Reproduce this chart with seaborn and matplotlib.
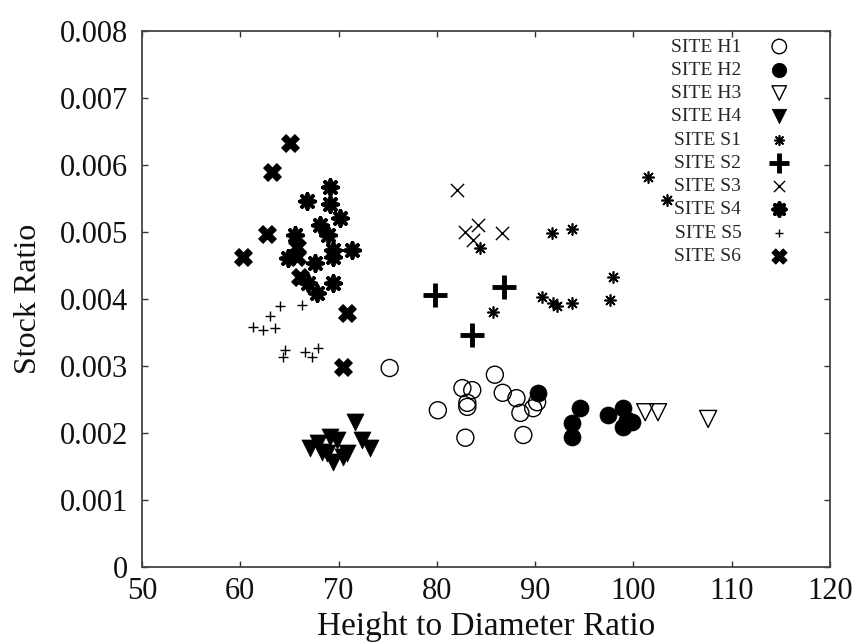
import matplotlib
matplotlib.use("Agg")
import matplotlib.pyplot as plt
import seaborn as sns
import pandas as pd

# Height-to-diameter ratio vs stock ratio per site
h1_x = [75.2, 80.1, 82.6, 83.6, 83.1, 83.1, 82.9, 85.9, 86.7, 88.1, 88.5, 88.8, 89.8, 90.2]
h1_y = [0.00297, 0.00234, 0.00267, 0.00264, 0.00245, 0.00239, 0.00193, 0.00287, 0.00260,
        0.00252, 0.00230, 0.00197, 0.00237, 0.00246]

h2_x = [90.3, 94.6, 93.8, 93.7, 97.4, 98.9, 99.3, 99.9, 98.9]
h2_y = [0.00260, 0.00237, 0.00215, 0.00194, 0.00227, 0.00237, 0.00219, 0.00216, 0.00209]

h3_x = [101.2, 102.5, 107.6]
h3_y = [0.00231, 0.00231, 0.00221]

h4_x = [71.7, 67.1, 67.9, 69.1, 69.8, 69.4, 68.8, 70.9, 72.4, 73.2, 70.4, 68.3]
h4_y = [0.00216, 0.00178, 0.00185, 0.00194, 0.00190, 0.00157, 0.00170, 0.00170, 0.00190,
        0.00178, 0.00164, 0.00172]

s1_x = [84.4, 91.7, 93.7, 97.9, 85.7, 90.7, 91.8, 92.2, 93.8, 97.6, 101.5, 103.4]
s1_y = [0.00476, 0.00499, 0.00504, 0.00433, 0.00381, 0.00403, 0.00394, 0.00390, 0.00394,
        0.00399, 0.00582, 0.00548]

s2_x = [79.8, 86.8, 83.6]
s2_y = [0.00406, 0.00418, 0.00346]

s3_x = [82.0, 82.9, 84.2, 86.6, 83.7]
s3_y = [0.00563, 0.00500, 0.00510, 0.00499, 0.00488]

s4_x = [66.8, 69.1, 69.1, 70.1, 68.1, 71.4, 65.6, 68.9, 69.4, 64.9, 67.6, 69.4, 66.9, 67.8,
        69.4]
s4_y = [0.00546, 0.00567, 0.00542, 0.00521, 0.00510, 0.00473, 0.00496, 0.00496, 0.00473,
        0.00461, 0.00454, 0.00463, 0.00424, 0.00409, 0.00424]

s5_x = [61.3, 62.3, 63.5, 63.0, 64.0, 66.3, 64.5, 64.3, 66.6, 67.3, 67.9]
s5_y = [0.00358, 0.00354, 0.00357, 0.00375, 0.00390, 0.00391, 0.00324, 0.00313, 0.00321,
        0.00313, 0.00327]

s6_x = [65.1, 63.2, 62.7, 60.3, 65.8, 66.1, 70.4, 70.9, 65.8]
s6_y = [0.00633, 0.00590, 0.00497, 0.00463, 0.00478, 0.00433, 0.00299, 0.00379, 0.00463]

x_ticks = [50, 60, 70, 80, 90, 100, 110, 120]
y_ticks = [0, 0.001, 0.002, 0.003, 0.004, 0.005, 0.006, 0.007, 0.008]
y_tick_labels = ["0", "0.001", "0.002", "0.003", "0.004", "0.005", "0.006", "0.007", "0.008"]

sns.set_theme(style="ticks")
plt.rcParams["font.family"] = ["Liberation Serif", "DejaVu Serif"]

fig = plt.figure(figsize=(8.58, 6.44), dpi=100)
ax = fig.add_axes([142 / 858, 1 - 567 / 644, (830 - 142) / 858, (567 - 31) / 644])

series = [
    ("SITE H1", h1_x, h1_y, dict(marker="o", s=150, facecolor="none", edgecolor="black", linewidth=1.0)),
    ("SITE H2", h2_x, h2_y, dict(marker="o", s=150, color="black", edgecolor="black", linewidth=0.5)),
    ("SITE H3", h3_x, h3_y, dict(marker="v", s=150, facecolor="none", edgecolor="black", linewidth=1.0)),
    ("SITE H4", h4_x, h4_y, dict(marker="v", s=150, color="black", edgecolor="black", linewidth=0.5)),
    ("SITE S1", s1_x, s1_y, dict(marker=(8, 2, 0), s=65, color="black", linewidth=1.2)),
    ("SITE S2", s2_x, s2_y, dict(marker="+", s=280, color="black", linewidth=3.5)),
    ("SITE S3", s3_x, s3_y, dict(marker="x", s=90, color="black", linewidth=1.0)),
    ("SITE S4", s4_x, s4_y, dict(marker=(8, 2, 0), s=115, color="black", linewidth=2.8)),
    ("SITE S5", s5_x, s5_y, dict(marker="+", s=45, color="black", linewidth=1.0)),
    ("SITE S6", s6_x, s6_y, dict(marker="X", s=160, color="black", edgecolor="black", linewidth=0.8)),
]

for label, xs, ys, kw in series:
    df = pd.DataFrame({"x": xs, "y": ys})
    sns.scatterplot(data=df, x="x", y="y", ax=ax, label=label, zorder=3, **kw)

ax.set_xlim(50, 120)
ax.set_ylim(0, 0.008)
ax.set_xticks(x_ticks)
ax.set_xticklabels([str(v) for v in x_ticks])
ax.set_yticks(y_ticks)
ax.set_yticklabels(y_tick_labels)

ax.tick_params(axis="both", which="major", direction="in", length=4, width=1,
               top=True, right=True, labelsize=22, color="#333333", labelcolor="#111111")
ax.tick_params(axis="x", pad=7)
ax.tick_params(axis="y", pad=10)
for sp in ax.spines.values():
    sp.set_linewidth(1.3)
    sp.set_color("#444444")

ax.set_xlabel("Height to Diameter Ratio", fontsize=24, color="#111111", labelpad=4)
ax.set_ylabel("Stock Ratio", fontsize=23, color="#111111", labelpad=12)

leg = ax.legend(loc="upper right", bbox_to_anchor=(788 / 858, 1 - 38 / 644),
                bbox_transform=fig.transFigure, frameon=False, markerfirst=False,
                fontsize=14, handlelength=0.9, handletextpad=1.5, labelspacing=0.29,
                borderpad=0, borderaxespad=0, scatterpoints=1, markerscale=0.85)

fig.savefig("out.png", dpi=100, facecolor="white")
